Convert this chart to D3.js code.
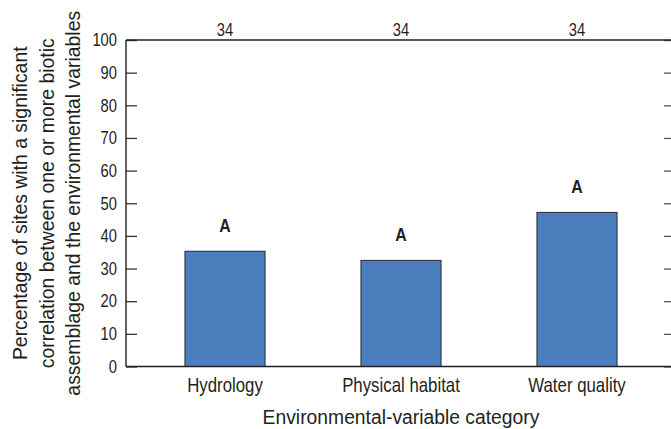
<!DOCTYPE html>
<html>
<head>
<meta charset="utf-8">
<script src="https://cdn.jsdelivr.net/npm/d3@7/dist/d3.min.js"></script>
<style>
  html, body { margin: 0; padding: 0; background: #ffffff; }
  svg { display: block; }
  text { font-family: "Liberation Sans", Arial, sans-serif; fill: #231f20; }
</style>
</head>
<body>
<svg id="chart" width="671" height="429"></svg>
<script>
// Share of sites with a significant biotic–environment correlation, by category
const categories = ["Hydrology", "Physical habitat", "Water quality"];
const percentSites = [35.3, 32.5, 47.2];
const siteCounts = [34, 34, 34];
const groupLetters = ["A", "A", "A"];
const yTicks = [0, 10, 20, 30, 40, 50, 60, 70, 80, 90, 100];
const yTitleLines = [
  "Percentage of sites with a significant",
  "correlation between one or more biotic",
  "assemblage and the environmental variables"
];
const xTitle = "Environmental-variable category";

const svg = d3.select("#chart");
const plotLeft = 126, plotRight = 672, plotTop = 40, plotBottom = 366.5;
// horizontal squeeze used to give the labels a condensed face
const narrow = 0.82;

const x = d3.scaleBand()
  .domain(categories)
  .range([137, 665])
  .paddingInner(0.545)
  .paddingOuter(0.2725);

const y = d3.scaleLinear().domain([0, 100]).range([plotBottom, plotTop]);

// Bars
svg.append("g")
  .selectAll("rect")
  .data(categories)
  .join("rect")
  .attr("x", d => x(d))
  .attr("width", x.bandwidth())
  .attr("y", (d, i) => y(percentSites[i]))
  .attr("height", (d, i) => y(0) - y(percentSites[i]))
  .attr("fill", "#4a7ebc")
  .attr("stroke", "#2a2a2a")
  .attr("stroke-width", 1);

// Left axis with inward ticks
const yAxis = svg.append("g")
  .attr("transform", `translate(${plotLeft},0)`)
  .call(d3.axisLeft(y).tickValues(yTicks).tickSize(-11).tickSizeOuter(0).tickPadding(9));
yAxis.select(".domain").remove();
yAxis.selectAll(".tick line").attr("stroke", "#333").attr("stroke-width", 1.3);
yAxis.selectAll(".tick text")
  .attr("font-size", 18)
  .attr("font-family", null)
  .attr("x", 0)
  .attr("transform", `translate(-9,0) scale(${narrow},1)`);

// Right-hand inward ticks
const yAxisR = svg.append("g")
  .attr("transform", `translate(671,0)`)
  .call(d3.axisRight(y).tickValues(yTicks).tickSize(-7).tickSizeOuter(0).tickFormat(""));
yAxisR.select(".domain").remove();
yAxisR.selectAll(".tick line").attr("stroke", "#555").attr("stroke-width", 1.3);

// Frame lines: left, top, bottom
svg.append("line").attr("x1", plotLeft).attr("x2", plotLeft).attr("y1", plotTop).attr("y2", plotBottom)
  .attr("stroke", "#231f20").attr("stroke-width", 1.4);
svg.append("line").attr("x1", plotLeft).attr("x2", plotRight).attr("y1", plotTop).attr("y2", plotTop)
  .attr("stroke", "#231f20").attr("stroke-width", 1.4);
svg.append("line").attr("x1", plotLeft).attr("x2", plotRight).attr("y1", plotBottom).attr("y2", plotBottom)
  .attr("stroke", "#231f20").attr("stroke-width", 1.4);

// Category labels
const xAxis = svg.append("g")
  .attr("transform", `translate(0,${plotBottom})`)
  .call(d3.axisBottom(x).tickSize(0).tickPadding(11));
xAxis.select(".domain").remove();
xAxis.selectAll(".tick text")
  .attr("font-size", 20.5)
  .attr("font-family", null)
  .attr("transform", `scale(${narrow},1)`);

// Site counts above the frame
svg.append("g")
  .selectAll("text")
  .data(categories)
  .join("text")
  .attr("transform", d => `translate(${x(d) + x.bandwidth() / 2},36) scale(${narrow},1)`)
  .attr("text-anchor", "middle")
  .attr("font-size", 18)
  .text((d, i) => siteCounts[i]);

// Group letters above bars
svg.append("g")
  .selectAll("text")
  .data(categories)
  .join("text")
  .attr("transform", (d, i) => `translate(${x(d) + x.bandwidth() / 2},${y(percentSites[i]) - 19}) scale(0.88,1)`)
  .attr("text-anchor", "middle")
  .attr("font-size", 18)
  .attr("font-weight", "bold")
  .text((d, i) => groupLetters[i]);

// Y-axis title (three lines, rotated)
const yMid = (plotTop + plotBottom) / 2;
const yTitleX = [26.5, 54, 80];
svg.append("g")
  .selectAll("text")
  .data(yTitleLines)
  .join("text")
  .attr("transform", (d, i) => `translate(${yTitleX[i]},${yMid}) rotate(-90)`)
  .attr("text-anchor", "middle")
  .attr("font-size", 19.4)
  .text(d => d);

// X-axis title
svg.append("text")
  .attr("transform", `translate(${(x.range()[0] + x.range()[1]) / 2},424) scale(0.92,1)`)
  .attr("text-anchor", "middle")
  .attr("font-size", 21)
  .text(xTitle);
</script>
</body>
</html>
